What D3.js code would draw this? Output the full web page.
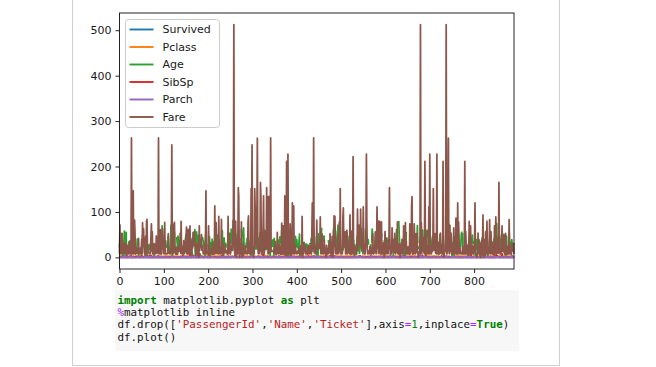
<!DOCTYPE html>
<html>
<head>
<meta charset="utf-8">
<script src="https://cdn.jsdelivr.net/npm/d3@7"></script>
<style>
  html, body { margin: 0; padding: 0; background: #fff; }
  svg { display: block; }
  .code text { white-space: pre; }
</style>
</head>
<body>
<svg id="chart" width="656" height="367"></svg>
<script>
// Titanic dataframe columns, one value per row (891 rows)
const survived = [
0,1,1,1,0,0,0,0,1,1,1,1,0,0,0,1,0,1,0,1,0,1,1,1,0,1,0,0,1,0,
0,1,1,0,0,0,1,0,0,1,0,0,0,1,1,0,0,1,0,0,0,0,1,1,0,1,1,0,1,0,
0,1,0,0,0,1,1,0,1,0,0,0,0,0,1,0,0,0,1,1,0,1,1,0,1,1,0,0,1,0,
0,0,0,0,0,0,0,1,1,0,0,0,0,0,0,0,1,1,0,1,0,0,0,0,0,0,0,0,0,0,
0,0,0,1,0,1,0,1,1,0,0,0,0,1,0,0,1,0,0,0,0,1,1,0,0,0,1,0,0,0,
0,1,0,0,0,0,1,0,0,0,0,1,0,0,0,1,1,0,0,0,0,0,1,0,0,0,0,0,0,0,
0,0,0,0,1,1,0,1,1,0,0,1,0,1,1,1,1,0,0,1,0,0,0,0,0,1,0,0,1,1,
1,0,1,0,0,0,1,1,0,1,0,1,0,0,0,1,0,1,0,0,0,1,0,0,1,0,0,0,1,0,
0,0,1,0,0,0,0,0,1,1,0,0,0,0,0,0,1,1,1,1,1,0,1,0,0,0,0,0,1,1,
1,0,1,1,0,1,1,0,0,0,1,0,0,0,1,0,0,1,0,1,1,1,1,0,0,0,0,0,0,1,
1,1,1,0,1,0,1,1,1,0,1,1,1,0,0,0,1,1,0,1,1,0,0,1,1,0,1,0,1,1,
1,1,0,0,0,1,0,0,1,1,0,1,1,0,0,0,1,1,1,1,0,0,0,0,0,0,0,1,0,1,
1,0,0,0,0,0,0,1,1,1,1,1,0,0,0,0,1,1,0,0,0,1,1,0,1,0,0,0,1,0,
1,1,1,0,1,1,0,0,0,0,1,1,0,0,0,0,0,0,1,0,0,0,0,0,0,0,1,0,0,0,
0,0,0,0,0,1,0,1,1,0,0,0,0,0,0,0,0,0,0,1,0,0,0,0,0,0,0,0,0,1,
1,0,1,1,1,0,1,0,1,0,0,0,0,1,1,1,0,0,0,0,1,0,1,1,1,1,0,0,0,1,
1,1,0,1,0,1,0,0,0,0,0,0,1,0,0,0,1,1,0,1,0,0,1,0,0,0,0,0,0,1,
0,0,0,1,0,1,0,1,0,1,0,1,1,0,1,0,0,0,0,0,0,0,1,0,1,0,0,1,0,1,
1,0,0,0,1,0,0,0,1,0,1,1,0,0,0,0,0,1,0,1,1,0,0,0,1,0,1,0,0,0,
1,1,1,1,1,0,0,0,1,0,1,1,1,0,0,1,1,1,1,0,0,0,1,0,0,0,0,0,0,1,
1,0,0,0,0,1,0,1,0,1,1,1,0,1,0,0,1,0,1,0,0,1,1,0,0,1,0,0,1,0,
1,0,1,0,0,0,1,0,0,1,0,1,1,0,1,0,0,0,0,0,1,0,1,0,1,0,0,0,1,0,
1,0,0,1,0,1,0,0,0,1,1,0,0,1,1,0,0,0,0,1,1,1,0,0,0,0,1,0,1,1,
1,1,1,0,0,0,0,0,1,0,1,1,0,1,0,0,0,0,1,1,1,1,0,1,0,0,1,1,0,0,
1,0,0,0,0,0,0,1,1,0,1,1,0,0,0,0,0,1,1,0,0,1,0,1,0,0,1,0,1,0,
1,1,0,1,0,1,1,0,0,1,1,0,0,1,1,0,1,0,0,0,0,0,0,1,0,0,1,0,1,1,
1,1,0,0,0,0,0,0,1,1,0,0,0,0,0,0,0,0,1,0,0,1,1,1,1,0,0,0,0,1,
0,0,0,0,0,0,0,0,0,0,0,0,1,0,1,0,0,0,1,1,1,1,1,0,0,0,0,1,0,1,
0,1,0,1,0,0,0,0,0,1,1,0,0,1,1,0,1,1,0,0,0,0,0,0,0,0,1,0,0,1,
0,0,1,0,0,1,1,0,0,0,1,0,0,0,0,0,0,1,0,1,0
];

const pclass = [
3,1,3,1,3,3,1,3,3,2,3,1,3,3,3,2,3,2,3,3,2,2,3,1,3,3,3,1,3,3,
1,1,3,2,1,1,3,3,3,3,3,2,3,2,3,3,3,3,3,3,3,3,1,2,1,1,2,3,2,3,
3,1,1,3,1,3,2,3,3,3,2,3,2,3,3,3,3,3,2,3,3,3,3,1,2,3,3,3,1,3,
3,3,1,3,3,3,1,1,2,2,3,3,1,3,3,3,3,3,3,3,1,3,3,3,3,3,3,2,1,3,
2,3,2,2,1,3,3,3,3,3,3,3,3,2,2,2,1,1,3,1,3,3,3,3,2,2,3,3,2,2,
2,1,3,3,3,1,3,3,3,3,3,2,3,3,3,3,1,3,1,3,1,3,3,3,1,3,3,1,2,3,
3,2,3,2,3,1,3,1,3,3,2,2,3,2,1,1,3,3,3,2,3,3,3,3,3,3,3,3,3,1,
3,2,3,2,3,1,3,2,1,2,3,2,3,3,1,3,2,3,2,3,1,3,2,3,2,3,2,2,2,2,
3,3,2,3,3,1,3,2,1,2,3,3,1,3,3,3,1,1,1,2,3,3,1,1,3,2,3,3,1,1,
1,3,2,1,3,1,3,2,3,3,3,3,3,3,1,3,3,3,2,3,1,1,2,3,3,1,3,1,1,1,
3,3,3,2,3,1,1,1,2,1,1,1,2,3,2,3,2,2,1,1,3,3,2,2,3,1,3,2,3,1,
3,1,1,3,1,3,1,1,3,1,2,1,2,2,2,2,2,3,3,3,3,1,3,3,3,3,1,2,3,3,
3,2,3,3,3,3,1,3,3,1,1,3,3,1,3,1,3,1,3,3,1,3,3,1,3,2,3,2,3,2,
1,3,3,1,3,3,3,2,2,2,3,3,3,3,3,2,3,2,3,3,3,3,1,2,3,3,2,2,2,3,
3,3,3,3,3,3,3,2,2,3,3,1,3,2,3,1,1,3,2,1,2,2,3,3,2,3,1,2,1,3,
1,2,3,1,1,3,3,1,1,2,3,1,3,1,2,3,3,2,1,3,3,3,3,2,2,3,1,2,3,3,
3,3,2,3,3,1,3,1,1,3,3,3,3,1,1,3,3,1,3,1,3,3,3,3,3,1,1,2,1,3,
3,3,3,1,1,3,1,2,3,2,3,1,3,3,1,3,3,2,1,3,2,2,3,3,3,3,2,1,1,3,
1,1,3,3,2,1,1,2,2,3,2,1,2,3,3,3,1,1,1,1,3,3,3,2,3,3,3,3,3,3,
3,2,1,1,3,3,3,2,1,3,3,2,1,2,1,3,1,2,1,3,3,3,1,3,3,2,3,2,3,3,
1,2,3,1,3,1,3,3,1,2,1,3,3,3,3,3,2,3,3,2,2,3,1,3,3,3,1,2,1,3,
3,1,3,1,1,3,2,3,2,3,3,3,1,3,3,3,1,3,1,3,3,3,2,3,3,3,2,3,3,2,
1,1,3,1,3,3,2,2,3,3,1,2,1,2,2,2,3,3,3,3,1,3,1,3,3,2,2,3,3,3,
1,1,3,3,3,1,3,2,3,3,3,3,1,2,3,3,3,3,3,1,3,1,3,2,3,3,1,1,3,3,
1,1,1,1,2,1,3,3,3,3,2,3,3,3,3,3,3,3,1,3,3,1,1,3,3,1,1,1,1,2,
3,2,3,1,3,3,3,3,2,3,1,3,2,3,1,3,3,3,3,3,3,3,3,2,2,3,2,1,1,3,
3,1,3,3,2,3,3,1,3,3,2,1,3,3,1,2,2,1,3,3,1,2,1,3,3,1,3,1,3,3,
3,2,2,3,3,3,3,1,2,3,2,1,2,3,3,3,3,2,1,2,2,1,1,3,1,2,3,1,3,1,
1,3,3,3,2,3,3,3,3,1,3,3,1,3,2,3,3,1,3,1,1,2,2,1,3,3,3,2,1,1,
3,1,3,3,3,3,3,2,3,3,3,3,3,3,3,3,2,1,3,1,3
];

const age = [
22,38,26,35,35,null,54,2,27,14,
4,58,20,39,14,55,2,null,31,null,
35,34,15,28,8,38,null,19,null,null,
40,null,null,66,28,42,null,21,18,14,
40,27,null,3,19,null,null,null,null,18,
7,21,49,29,65,null,21,28.5,5,11,
22,38,45,4,null,null,29,19,17,26,
32,16,21,26,32,25,null,null,0.83,30,
22,29,null,28,17,33,16,null,23,24,
29,20,46,26,59,null,71,23,34,34,
28,null,21,33,37,28,21,null,38,null,
47,14.5,22,20,17,21,70.5,29,24,2,
21,null,32.5,32.5,54,12,null,24,null,45,
33,20,47,29,25,23,19,37,16,24,
null,22,24,19,18,19,27,9,36.5,42,
51,22,55.5,40.5,null,51,16,30,null,null,
44,40,26,17,1,9,null,45,null,28,
61,4,1,21,56,18,null,50,30,36,
null,null,9,1,4,null,null,45,40,36,
32,19,19,3,44,58,null,42,null,24,
28,null,34,45.5,18,2,32,26,16,40,
24,35,22,30,null,31,27,42,32,30,
16,27,51,null,38,22,19,20.5,18,null,
35,29,59,5,24,null,44,8,19,33,
null,null,29,22,30,44,25,24,37,54,
null,29,62,30,41,29,null,30,35,50,
null,3,52,40,null,36,16,25,58,35,
null,25,41,37,null,63,45,null,7,35,
65,28,16,19,null,33,30,22,42,22,
26,19,36,24,24,null,23.5,2,null,50,
null,null,19,null,null,0.92,null,17,30,30,
24,18,26,28,43,26,24,54,31,40,
22,27,30,22,null,36,61,36,31,16,
null,45.5,38,16,null,null,29,41,45,45,
2,24,28,25,36,24,40,null,3,42,
23,null,15,25,null,28,22,38,null,null,
40,29,45,35,null,30,60,null,null,24,
25,18,19,22,3,null,22,27,20,19,
42,1,32,35,null,18,1,36,null,17,
36,21,28,23,24,22,31,46,23,28,
39,26,21,28,20,34,51,3,21,null,
null,null,33,null,44,null,34,18,30,10,
null,21,29,28,18,null,28,19,null,32,
28,null,42,17,50,14,21,24,64,31,
45,20,25,28,null,4,13,34,5,52,
36,null,30,49,null,29,65,null,50,null,
48,34,47,48,null,38,null,56,null,0.75,
null,38,33,23,22,null,34,29,22,2,
9,null,50,63,25,null,35,58,30,9,
null,21,55,71,21,null,54,null,25,24,
17,21,null,37,16,18,33,null,28,26,
29,null,36,54,24,47,34,null,36,32,
30,22,null,44,null,40.5,50,null,39,23,
2,null,17,null,30,7,45,30,null,22,
36,9,11,32,50,64,19,null,33,8,
17,27,null,22,22,62,48,null,39,36,
null,40,28,null,null,24,19,29,null,32,
62,53,36,null,16,19,34,39,null,32,
25,39,54,36,null,18,47,60,22,null,
35,52,47,null,37,36,null,49,null,49,
24,null,null,44,35,36,30,27,22,40,
39,null,null,null,35,24,34,26,4,26,
27,42,20,21,21,61,57,21,26,null,
80,51,32,null,9,28,32,31,41,null,
20,24,2,null,0.75,48,19,56,null,23,
null,18,21,null,18,24,null,32,23,58,
50,40,47,36,20,32,25,null,43,null,
40,31,70,31,null,18,24.5,18,43,36,
null,27,20,14,60,25,14,19,18,15,
31,4,null,25,60,52,44,null,49,42,
18,35,18,25,26,39,45,42,22,null,
24,null,48,29,52,19,38,27,null,33,
6,17,34,50,27,20,30,null,25,25,
29,11,null,23,23,28.5,48,35,null,null,
null,36,21,24,31,70,16,30,19,31,
4,6,33,23,48,0.67,28,18,34,33,
null,41,20,36,16,51,null,30.5,null,32,
24,48,57,null,54,18,null,5,null,43,
13,17,29,null,25,25,18,8,1,46,
null,16,null,null,25,39,49,31,30,30,
34,31,11,0.42,27,31,39,18,39,33,
26,39,35,6,30.5,null,23,31,43,10,
52,27,38,27,2,null,null,1,null,62,
15,0.83,null,23,18,39,21,null,32,null,
20,16,30,34.5,17,42,null,35,28,null,
4,74,9,16,44,18,45,51,24,null,
41,21,48,null,24,42,27,31,null,4,
26,47,33,47,28,15,20,19,null,56,
25,33,22,28,25,39,27,19,null,26,
32
];

const sibsp = [
1,1,0,1,0,0,0,3,0,1,1,0,0,1,0,0,4,0,1,0,0,0,0,0,3,1,0,3,0,0,
0,1,0,0,1,1,0,0,2,1,1,1,0,1,0,0,1,0,2,1,4,0,1,1,0,0,0,0,1,5,
0,0,1,3,0,1,0,0,4,2,0,5,0,1,0,0,0,0,0,0,0,0,0,0,0,0,1,0,3,0,
0,0,0,1,0,0,0,0,0,1,0,0,0,0,2,0,0,0,0,0,1,0,1,0,1,0,0,0,1,0,
2,0,0,1,0,0,1,0,0,1,0,0,0,1,1,0,0,0,1,0,0,0,1,4,0,1,1,0,2,0,
0,1,0,0,0,0,0,0,0,8,0,0,0,0,4,1,0,0,1,0,0,4,0,0,0,0,1,8,0,0,
8,0,1,0,1,0,0,1,0,1,0,0,1,0,1,1,0,0,0,0,0,8,0,0,1,0,0,0,0,0,
0,0,0,0,0,1,1,0,1,0,0,0,0,0,0,0,0,0,0,0,3,1,0,0,4,0,0,1,0,0,
1,1,0,0,0,0,2,0,0,1,1,0,1,0,1,0,0,0,0,0,0,4,1,1,0,0,0,0,0,0,
0,0,0,0,0,0,1,0,0,4,1,0,0,0,0,0,0,0,0,0,0,0,1,0,0,0,0,1,1,1,
0,2,2,0,0,0,1,0,1,1,0,0,2,1,0,1,0,1,0,0,1,0,0,0,8,0,0,0,0,0,
2,0,0,0,2,1,0,1,0,0,0,1,0,0,0,0,0,0,1,1,0,0,0,1,1,0,0,0,0,0,
1,0,1,1,0,1,0,1,0,0,0,1,1,0,0,3,1,0,0,0,0,0,0,1,1,0,0,5,0,0,
1,0,0,0,1,0,1,0,0,0,0,1,1,0,0,0,1,0,0,0,3,0,0,1,0,0,0,1,0,0,
0,0,0,1,1,0,3,1,0,0,0,0,1,0,0,1,1,0,2,1,0,1,1,0,0,1,0,0,0,1,
1,0,0,0,1,0,0,0,1,0,0,0,1,0,0,0,0,0,0,0,2,0,0,1,0,4,0,1,1,0,
5,0,0,0,0,0,3,1,0,0,1,1,0,0,0,0,0,1,1,0,0,0,0,0,0,0,1,0,0,0,
0,0,0,0,1,0,0,0,0,0,0,1,0,0,0,0,0,0,0,0,2,1,0,1,0,0,0,0,0,1,
0,1,4,4,1,1,0,0,0,1,1,0,0,0,0,1,0,1,0,1,1,0,0,0,0,0,2,0,0,0,
2,0,1,0,0,0,0,0,1,1,0,0,1,0,0,0,0,0,0,2,0,0,1,0,1,0,1,0,0,1,
2,1,0,0,0,0,1,0,0,1,0,1,0,1,0,0,2,1,1,0,0,1,1,0,0,1,0,0,0,0,
0,0,0,0,0,0,0,0,1,0,1,0,0,3,0,2,1,0,0,0,0,0,0,0,0,0,2,0,1,0,
2,1,0,0,0,1,2,0,0,0,1,1,0,0,0,0,0,0,0,0,0,1,0,5,0,1,1,0,0,0,
1,4,0,0,0,0,0,0,0,1,0,1,0,0,1,1,0,0,0,0,1,0,0,1,0,0,0,0,0,0,
0,0,1,0,0,1,0,3,0,1,1,1,0,0,0,0,1,1,0,0,0,1,1,0,1,0,1,0,0,1,
1,0,0,0,0,1,1,0,0,0,0,0,0,0,1,0,1,0,0,0,0,0,0,0,0,0,0,0,0,0,
0,0,1,0,0,0,0,4,0,1,0,0,0,8,0,0,0,0,0,0,1,0,1,0,0,0,0,0,0,0,
0,0,0,0,4,0,0,0,1,0,3,1,0,0,1,4,0,0,1,0,0,1,1,0,0,0,0,0,0,0,
0,0,0,0,0,0,8,0,0,0,1,4,4,1,0,0,0,1,0,0,0,2,1,8,0,0,0,0,0,1,
0,1,1,0,0,1,0,0,0,0,0,0,0,0,0,0,0,0,0,1,0
];

const parch = [
0,0,0,0,0,0,0,1,2,0,1,0,0,5,0,0,1,0,0,0,0,0,0,0,1,5,0,2,0,0,
0,0,0,0,0,0,0,0,0,0,0,0,0,2,0,0,0,0,0,0,1,0,0,0,0,0,0,0,2,2,
0,0,0,2,0,1,0,0,2,0,0,2,0,0,0,0,0,0,2,0,0,0,0,0,0,0,3,0,2,0,
0,0,0,0,2,0,0,0,1,0,0,0,0,1,0,0,0,0,0,0,0,0,0,0,0,0,0,0,1,2,
0,0,0,0,0,0,0,0,1,0,0,0,0,0,0,0,0,1,0,0,0,0,0,2,0,1,0,0,2,0,
0,0,0,0,2,0,1,0,0,2,2,1,0,0,0,1,2,1,4,0,0,1,1,0,0,0,1,2,0,0,
2,2,0,2,1,2,0,0,0,1,0,0,0,0,2,0,0,0,1,0,0,2,0,0,0,0,0,0,0,0,
0,0,0,0,0,0,0,0,0,0,0,0,0,0,0,0,0,0,0,0,1,0,0,0,2,0,0,2,0,0,
0,0,1,0,0,0,2,0,2,1,0,0,1,0,0,2,2,0,0,0,1,2,1,1,0,0,0,0,0,2,
0,0,0,1,0,0,0,0,0,1,1,0,0,0,0,0,0,0,0,0,0,0,0,0,0,0,0,0,2,2,
0,0,0,0,0,0,2,0,0,0,0,2,2,1,0,1,0,0,0,2,1,0,0,0,2,0,0,0,0,1,
0,0,0,1,0,0,0,0,0,0,0,2,0,0,0,0,0,0,0,0,0,0,0,1,2,0,0,1,0,0,
4,0,0,1,0,0,0,0,0,0,0,0,1,0,0,1,0,0,0,0,0,0,0,0,0,0,2,0,0,0,
2,0,0,2,0,2,0,0,0,0,0,0,0,0,0,0,0,0,0,0,1,0,0,0,0,0,0,1,0,2,
0,0,0,0,1,1,0,0,0,0,0,0,0,0,0,0,2,2,3,4,0,0,0,0,0,2,2,0,1,0,
2,0,0,0,0,0,0,0,0,0,0,0,0,0,0,0,0,0,0,0,1,0,0,2,0,0,0,0,0,0,
2,0,0,0,0,1,1,0,0,1,1,0,0,0,0,0,0,0,0,2,0,0,0,0,0,0,0,0,0,0,
0,0,0,0,0,0,0,0,0,0,0,0,0,0,1,0,0,0,0,0,0,1,0,1,2,0,0,0,0,0,
2,2,2,2,0,0,0,0,0,1,1,0,0,0,0,0,0,0,0,0,0,0,0,0,0,0,0,4,0,0,
0,0,0,0,0,0,0,0,0,0,0,0,1,0,0,0,2,0,1,0,0,0,0,0,2,0,1,0,0,0,
1,1,0,0,0,0,0,0,0,2,0,5,0,0,0,0,1,0,0,2,0,0,0,1,0,0,0,0,0,0,
0,0,0,0,0,0,0,0,5,0,0,0,0,2,0,1,0,0,0,0,0,0,1,0,0,0,0,0,0,0,
0,0,0,0,0,1,0,0,0,0,0,0,0,0,0,0,0,0,6,0,1,0,0,2,0,1,2,0,1,0,
0,1,0,0,0,0,0,0,0,1,0,0,0,1,0,0,0,0,0,0,1,0,0,0,0,0,0,0,0,0,
1,0,0,0,0,0,0,0,0,0,0,0,0,0,0,0,0,3,0,0,0,0,0,0,0,0,1,0,0,0,
2,1,1,0,0,2,1,0,0,0,0,0,0,0,2,0,0,0,0,0,0,0,0,0,0,0,0,0,2,0,
1,0,0,0,2,0,0,1,1,2,0,0,0,2,0,0,0,0,0,0,1,0,1,0,1,0,0,0,0,0,
0,0,0,0,2,0,0,0,1,0,2,1,0,0,1,1,0,2,2,0,0,0,1,0,0,0,2,0,0,0,
0,0,0,0,0,0,2,0,0,1,0,1,0,1,1,0,1,0,1,0,0,0,0,2,0,0,0,0,0,1,
1,1,0,0,0,0,0,0,0,0,1,1,0,0,0,5,0,0,2,0,0
];

const fare = [
7.25,71.2833,7.925,53.1,8.05,8.4583,51.8625,21.075,11.1333,30.0708,
16.7,26.55,8.05,31.275,7.8542,16,29.125,13,18,7.225,
26,13,8.0292,35.5,21.075,31.3875,7.225,263,7.8792,7.8958,
27.7208,146.5208,7.75,10.5,82.1708,52,7.2292,8.05,18,11.2417,
9.475,21,7.8958,41.5792,7.8792,8.05,15.5,7.75,21.6792,17.8,
39.6875,7.8,76.7292,26,61.9792,35.5,10.5,7.2292,27.75,46.9,
7.2292,80,83.475,27.9,27.7208,15.2458,10.5,8.1583,7.925,8.6625,
10.5,46.9,73.5,14.4542,56.4958,7.65,7.8958,8.05,29,12.475,
9,9.5,7.7875,47.1,10.5,15.85,34.375,8.05,263,8.05,
8.05,7.8542,61.175,20.575,7.25,8.05,34.6542,63.3583,23,26,
7.8958,7.8958,77.2875,8.6542,7.925,7.8958,7.65,7.775,7.8958,24.15,
52,14.4542,8.05,9.825,14.4583,7.925,7.75,21,247.5208,31.275,
73.5,8.05,30.0708,13,77.2875,11.2417,7.75,7.1417,22.3583,6.975,
7.8958,7.05,14.5,26,13,15.0458,26.2833,53.1,9.2167,79.2,
15.2458,7.75,15.85,6.75,11.5,36.75,7.7958,34.375,26,13,
12.525,66.6,8.05,14.5,7.3125,61.3792,7.7333,8.05,8.6625,69.55,
16.1,15.75,7.775,8.6625,39.6875,20.525,55,27.9,25.925,56.4958,
33.5,29.125,11.1333,7.925,30.6958,7.8542,25.4667,28.7125,13,0,
69.55,15.05,31.3875,39,22.025,50,15.5,26.55,15.5,7.8958,
13,13,7.8542,26,27.7208,146.5208,7.75,8.4042,7.75,13,
9.5,69.55,6.4958,7.225,8.05,10.4625,15.85,18.7875,7.75,31,
7.05,21,7.25,13,7.75,113.275,7.925,27,76.2917,10.5,
8.05,13,8.05,7.8958,90,9.35,10.5,7.25,13,25.4667,
83.475,7.775,13.5,31.3875,10.5,7.55,26,26.25,10.5,12.275,
14.4542,15.5,10.5,7.125,7.225,90,7.775,14.5,52.5542,26,
7.25,10.4625,26.55,16.1,20.2125,15.2458,79.2,86.5,512.3292,26,
7.75,31.3875,79.65,0,7.75,10.5,39.6875,7.775,153.4625,135.6333,
31,0,19.5,29.7,7.75,77.9583,7.75,0,29.125,20.25,
7.75,7.8542,9.5,8.05,26,8.6625,9.5,7.8958,13,7.75,
78.85,91.0792,12.875,8.85,7.8958,27.7208,7.2292,151.55,30.5,247.5208,
7.75,23.25,0,12.35,8.05,151.55,110.8833,108.9,24,56.9292,
83.1583,262.375,26,7.8958,26.25,7.8542,26,14,164.8667,134.5,
7.25,7.8958,12.35,29,69.55,135.6333,6.2375,13,20.525,57.9792,
23.25,28.5,153.4625,18,133.65,7.8958,66.6,134.5,8.05,35.5,
26,263,13,13,13,13,13,16.1,15.9,8.6625,
9.225,35,7.2292,17.8,7.225,9.5,55,13,7.8792,7.8792,
27.9,27.7208,14.4542,7.05,15.5,7.25,75.25,7.2292,7.75,69.3,
55.4417,6.4958,8.05,135.6333,21.075,82.1708,7.25,211.5,4.0125,7.775,
227.525,15.7417,7.925,52,7.8958,73.5,46.9,13,7.7292,12,
120,7.7958,7.925,113.275,16.7,7.7958,7.8542,26,10.5,12.65,
7.925,8.05,9.825,15.85,8.6625,21,7.75,18.75,7.775,25.4667,
7.8958,6.8583,90,0,7.925,8.05,32.5,13,13,24.15,
7.8958,7.7333,7.875,14.4,20.2125,7.25,26,26,7.75,8.05,
26.55,16.1,26,7.125,55.9,120,34.375,18.75,263,10.5,
26.25,9.5,7.775,13,8.1125,81.8583,19.5,26.55,19.2583,30.5,
27.75,19.9667,27.75,89.1042,8.05,7.8958,26.55,51.8625,10.5,7.75,
26.55,8.05,38.5,13,8.05,7.05,0,26.55,7.725,19.2583,
7.25,8.6625,27.75,13.7917,9.8375,52,21,7.0458,7.5208,12.2875,
46.9,0,8.05,9.5875,91.0792,25.4667,90,29.7,8.05,15.9,
19.9667,7.25,30.5,49.5042,8.05,14.4583,78.2667,15.1,151.55,7.7958,
8.6625,7.75,7.6292,9.5875,86.5,108.9,26,26.55,22.525,56.4958,
7.75,8.05,26.2875,59.4,7.4958,34.0208,10.5,24.15,26,7.8958,
93.5,7.8958,7.225,57.9792,7.2292,7.75,10.5,221.7792,7.925,11.5,
26,7.2292,7.2292,22.3583,8.6625,26.25,26.55,106.425,14.5,49.5,
71,31.275,31.275,26,106.425,26,26,13.8625,20.525,36.75,
110.8833,26,7.8292,7.225,7.775,26.55,39.6,227.525,79.65,17.4,
7.75,7.8958,13.5,8.05,8.05,24.15,7.8958,21.075,7.2292,7.8542,
10.5,51.4792,26.3875,7.75,8.05,14.5,13,55.9,14.4583,7.925,
30,110.8833,26,40.125,8.7125,79.65,15,79.2,8.05,8.05,
7.125,78.2667,7.25,7.75,26,24.15,33,0,7.225,56.9292,
27,7.8958,42.4,8.05,26.55,15.55,7.8958,30.5,41.5792,153.4625,
31.275,7.05,15.5,7.75,8.05,65,14.4,16.1,39,10.5,
14.4542,52.5542,15.7417,7.8542,16.1,32.3208,12.35,77.9583,7.8958,7.7333,
30,7.0542,30.5,0,27.9,13,7.925,26.25,39.6875,16.1,
7.8542,69.3,27.9,56.4958,19.2583,76.7292,7.8958,35.5,7.55,7.55,
7.8958,23,8.4333,7.8292,6.75,73.5,7.8958,15.5,13,113.275,
133.65,7.225,25.5875,7.4958,7.925,73.5,13,7.775,8.05,52,
39,52,10.5,13,0,7.775,8.05,9.8417,46.9,512.3292,
8.1375,76.7292,9.225,46.9,39,41.5792,39.6875,10.1708,7.7958,211.3375,
57,13.4167,56.4958,7.225,26.55,13.5,8.05,7.7333,110.8833,7.65,
227.525,26.2875,14.4542,7.7417,7.8542,26,13.5,26.2875,151.55,15.2458,
49.5042,26.55,52,9.4833,13,7.65,227.525,10.5,15.5,7.775,
33,7.0542,13,13,53.1,8.6625,21,7.7375,26,7.925,
211.3375,18.7875,0,13,13,16.1,34.375,512.3292,7.8958,7.8958,
30,78.85,262.375,16.1,7.925,71,20.25,13,53.1,7.75,
23,12.475,9.5,7.8958,65,14.5,7.7958,11.5,8.05,86.5,
14.5,7.125,7.2292,120,7.775,77.9583,39.6,7.75,24.15,8.3625,
9.5,7.8542,10.5,7.225,23,7.75,7.75,12.475,7.7375,211.3375,
7.2292,57,30,23.45,7.05,7.25,7.4958,29.125,20.575,79.2,
7.75,26,69.55,30.6958,7.8958,13,25.9292,8.6833,7.2292,24.15,
13,26.25,120,8.5167,6.975,7.775,0,7.775,13,53.1,
7.8875,24.15,10.5,31.275,8.05,0,7.925,37.0042,6.45,27.9,
93.5,8.6625,0,12.475,39.6875,6.95,56.4958,37.0042,7.75,80,
14.4542,18.75,7.2292,7.8542,8.3,83.1583,8.6625,8.05,56.4958,29.7,
7.925,10.5,31,6.4375,8.6625,7.55,69.55,7.8958,33,89.1042,
31.275,7.775,15.2458,39.4,26,9.35,164.8667,26.55,19.2583,7.2292,
14.1083,11.5,25.9292,69.55,13,13,13.8583,50.4958,9.5,11.1333,
7.8958,52.5542,5,9,24,7.225,9.8458,7.8958,7.8958,83.1583,
26,7.8958,10.5167,10.5,7.05,29.125,13,30,23.45,30,
7.75
];

const seriesNames = ["Survived", "Pclass", "Age", "SibSp", "Parch", "Fare"];
const seriesValues = [survived, pclass, age, sibsp, parch, fare];
const seriesColors = ["#1f77b4", "#ff7f0e", "#2ca02c", "#d62728", "#9467bd", "#8c564b"];
const xTicks = [0, 100, 200, 300, 400, 500, 600, 700, 800];
const yTicks = [0, 100, 200, 300, 400, 500];

// notebook cell source shown under the plot
const codeLines = [
  [["import", "kw"], [" matplotlib.pyplot ", ""], ["as", "kw"], [" plt", ""]],
  [["%", "op"], ["matplotlib inline", ""]],
  [["df.drop([", ""], ["'PassengerId'", "str"], [",", ""], ["'Name'", "str"], [",", ""],
   ["'Ticket'", "str"], ["],axis", ""], ["=", "op"], ["1", "num"], [",inplace", ""],
   ["=", "op"], ["True", "kw"], [")", ""]],
  [["df.plot()", ""]]
];
const tokenColors = { kw: "#008000", op: "#AA22FF", str: "#BA2121", num: "#008800", "": "#111" };

const svg = d3.select("#chart");

// output cell border
svg.append("rect")
  .attr("x", 72.5).attr("y", -2)
  .attr("width", 487).attr("height", 367.5)
  .attr("fill", "#fff").attr("stroke", "#cfcfcf");

const plot = { left: 119.5, right: 514, top: 13, bottom: 269 };

const n = fare.length;
const x = d3.scaleLinear().domain([0, n - 1]).range([plot.left, plot.right]);

// matplotlib style 5% margin on y
const allVals = seriesValues.flat().filter(v => v != null);
const [yMin, yMax] = d3.extent(allVals);
const pad = (yMax - yMin) * 0.05;
const y = d3.scaleLinear().domain([yMin - pad, yMax + pad]).range([plot.bottom, plot.top]);

const line = d3.line()
  .defined(d => d != null)
  .x((d, i) => x(i))
  .y(d => y(d));

const lines = svg.append("g");
seriesValues.forEach((vals, k) => {
  lines.append("path")
    .datum(vals)
    .attr("d", line)
    .attr("fill", "none")
    .attr("stroke", seriesColors[k])
    .attr("stroke-width", 1.75)
    .attr("stroke-linejoin", "round");
});

// axes
const xAxis = svg.append("g")
  .attr("transform", `translate(0,${plot.bottom})`)
  .call(d3.axisBottom(x).tickValues(xTicks).tickSize(4).tickPadding(4).tickSizeOuter(0));
const yAxis = svg.append("g")
  .attr("transform", `translate(${plot.left},0)`)
  .call(d3.axisLeft(y).tickValues(yTicks).tickSize(4).tickPadding(4).tickSizeOuter(0));

[xAxis, yAxis].forEach(g => {
  g.select(".domain").remove();
  g.selectAll(".tick line").attr("stroke", "#222");
  g.selectAll(".tick text")
    .attr("fill", "#1a1a1a")
    .attr("font-family", "DejaVu Sans")
    .attr("font-size", "11px");
});

// frame
svg.append("rect")
  .attr("x", plot.left).attr("y", plot.top)
  .attr("width", plot.right - plot.left).attr("height", plot.bottom - plot.top)
  .attr("fill", "none").attr("stroke", "#222").attr("stroke-width", 1);

// legend
const legend = svg.append("g").attr("transform", "translate(125.5,19.5)");
legend.append("rect")
  .attr("width", 94).attr("height", 108).attr("rx", 3)
  .attr("fill", "#fff").attr("fill-opacity", 0.8)
  .attr("stroke", "#ccc");
seriesNames.forEach((name, i) => {
  const yy = 10 + i * 17.5;
  legend.append("line")
    .attr("x1", 4).attr("x2", 28).attr("y1", yy).attr("y2", yy)
    .attr("stroke", seriesColors[i]).attr("stroke-width", 1.9);
  legend.append("text")
    .attr("x", 37).attr("y", yy)
    .attr("dominant-baseline", "central")
    .attr("font-family", "DejaVu Sans").attr("font-size", "11px")
    .attr("fill", "#1a1a1a")
    .text(name);
});

// code cell
const code = svg.append("g").attr("class", "code");
code.append("rect")
  .attr("x", 115).attr("y", 290).attr("width", 404).attr("height", 61)
  .attr("fill", "#f7f7f7");
codeLines.forEach((tokens, i) => {
  const t = code.append("text")
    .attr("x", 117.5).attr("y", 300 + i * 12.2)
    .attr("dominant-baseline", "central")
    .attr("font-family", "DejaVu Sans Mono").attr("font-size", "10.85px");
  tokens.forEach(([txt, cls]) => {
    t.append("tspan")
      .attr("fill", tokenColors[cls])
      .attr("font-weight", cls === "kw" ? "bold" : "normal")
      .text(txt);
  });
});
</script>
</body>
</html>
